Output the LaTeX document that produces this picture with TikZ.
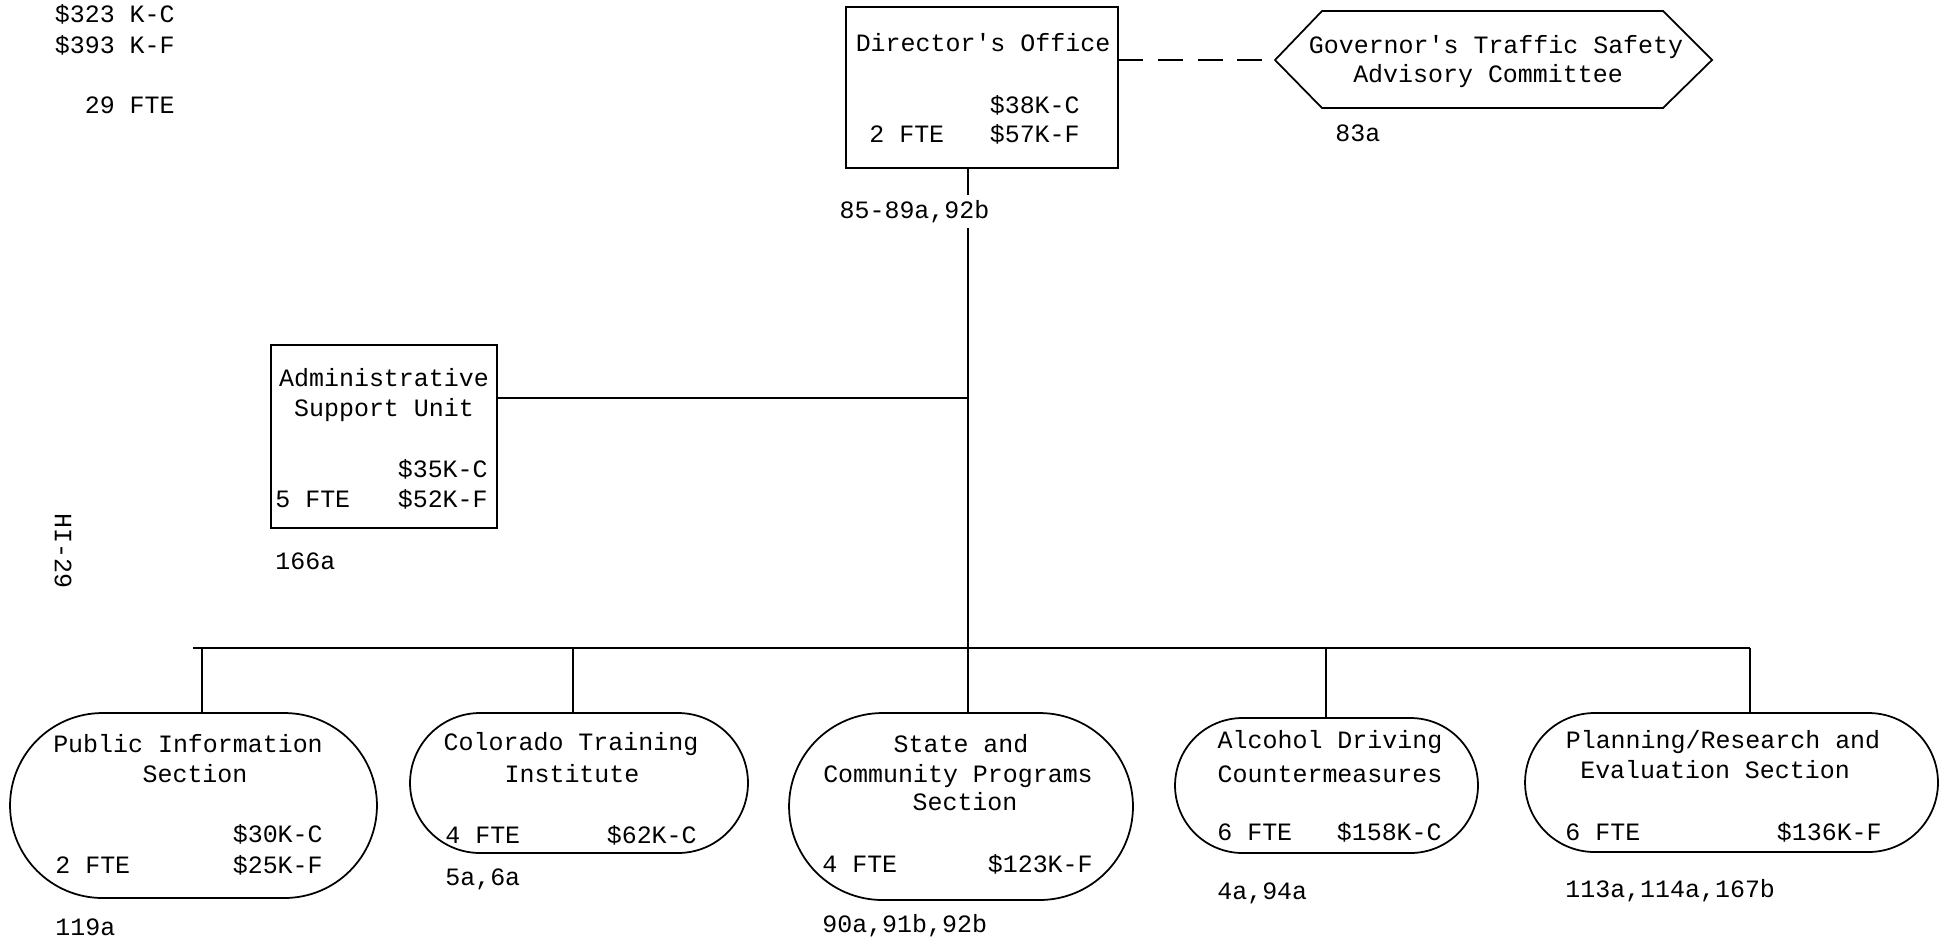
\documentclass[tikz,border=0pt]{standalone}
\usepackage{fontspec}
\setmonofont{Liberation Mono}
\usetikzlibrary{positioning, shapes.misc, calc}

\tikzset{
  unitbox/.style={draw, rectangle, inner sep=0pt, line width=1pt},
  secbox/.style={draw, rounded rectangle, inner sep=0pt, line width=1pt},
  orgline/.style={line width=1pt},
  txt/.style={inner sep=0pt, font=\ttfamily\fontsize{14.2}{17.5}\selectfont},
}

\begin{document}
\begin{tikzpicture}[x=0.02cm, y=-0.02cm]
\useasboundingbox (0,0) rectangle (1949,941);
% Boxes of the units
\node[unitbox, minimum width=5.44cm, minimum height=3.22cm] (dir) at (982,87.5) {};
\node[unitbox, minimum width=4.52cm, minimum height=3.66cm] (adm) at (384,436.5) {};
% Sections
\node[secbox, minimum width=7.34cm, minimum height=3.70cm] (pub) at (193.5,805.5) {};
\node[secbox, minimum width=6.76cm, minimum height=2.80cm] (cti) at (579,783) {};
\node[secbox, minimum width=6.88cm, minimum height=3.74cm] (scp) at (961,806.5) {};
\node[secbox, minimum width=6.06cm, minimum height=2.70cm] (adc) at (1326.5,785.5) {};
\node[secbox, minimum width=8.26cm, minimum height=2.78cm] (pre) at (1731.5,782.5) {};
% Advisory committee
\draw[orgline] (1275,60) coordinate (gov-w) -- (1322,11) -- (1663,11) -- (1712,60)
  -- (1663,108) -- (1322,108) -- cycle;
\draw[orgline, dash pattern=on 14pt off 8.5pt] (dir.east |- gov-w) -- (gov-w);
% Trunk and bus
\coordinate (trunk) at (968,648);
\coordinate (bus-w) at (193,648);
\coordinate (bus-e) at (1750,648);
\draw[orgline] (trunk |- dir.south) -- (trunk);
\coordinate (adm-out) at ($(adm.north east)!0.29!(adm.south east)$);
\draw[orgline] (adm-out) -- (adm-out -| trunk);
\draw[orgline] (bus-w) -- (bus-e);
\foreach \n/\x in {pub/202, cti/573, scp/968, adc/1326, pre/1750} {
  \coordinate (d-\n) at (\x,648);
  \draw[orgline] (d-\n) -- (d-\n |- \n.north);
}
\node[txt, anchor=base west, fill=white, inner sep=3pt] (dir-ref) at (834,218) {85-89a,92b};
% Titles
\foreach \x/\y/\t [count=\i] in {983/51/Director's Office, 1496/53/Governor's Traffic Safety,
  1488/82/Advisory Committee, 384/386/Administrative, 384/416/Support Unit,
  188/752/Public Information, 195/782/Section, 571/750/Colorado Training,
  572/782/Institute, 961/752/State and, 958/782/Community Programs, 965/810/Section,
  1330/748/Alcohol Driving, 1330/782/Countermeasures, 1723/748/{Planning/Research and},
  1715/778/Evaluation Section} {
  \node[txt, anchor=base] (title\i) at (\x,\y) {\t};
}
% Money
\foreach \x/\y/\t [count=\i] in {175/22/\$323 K-C, 175/53/\$393 K-F, 1080/113/\$38K-C,
  1080/142/\$57K-F, 488/477/\$35K-C, 488/507/\$52K-F, 323/842/\$30K-C, 323/873/\$25K-F,
  697/843/\$62K-C, 1093/872/\$123K-F, 1442/840/\$158K-C, 1882/840/\$136K-F} {
  \node[txt, anchor=base east] (cost\i) at (\x,\y) {\t};
}
% Staff
\node[txt, anchor=base east] (fte0) at (175,113) {29 FTE};
\foreach \x/\y/\t [count=\i] in {869/142/2 FTE, 275/507/5 FTE, 55/873/2 FTE, 445/843/4 FTE,
  822/872/4 FTE, 1217/840/6 FTE, 1565/840/6 FTE} {
  \node[txt, anchor=base west] (fte\i) at (\x,\y) {\t};
}
% References
\foreach \x/\y/\t [count=\i] in {1335/141/83a, 275/569/166a, 55/935/119a, 445/885/{5a,6a},
  822/932/{90a,91b,92b}, 1217/899/{4a,94a}, 1565/897/{113a,114a,167b}} {
  \node[txt, anchor=base west] (ref\i) at (\x,\y) {\t};
}
\node[txt, rotate=-90] (page) at (63,551) {HI-29};
\end{tikzpicture}
\end{document}
